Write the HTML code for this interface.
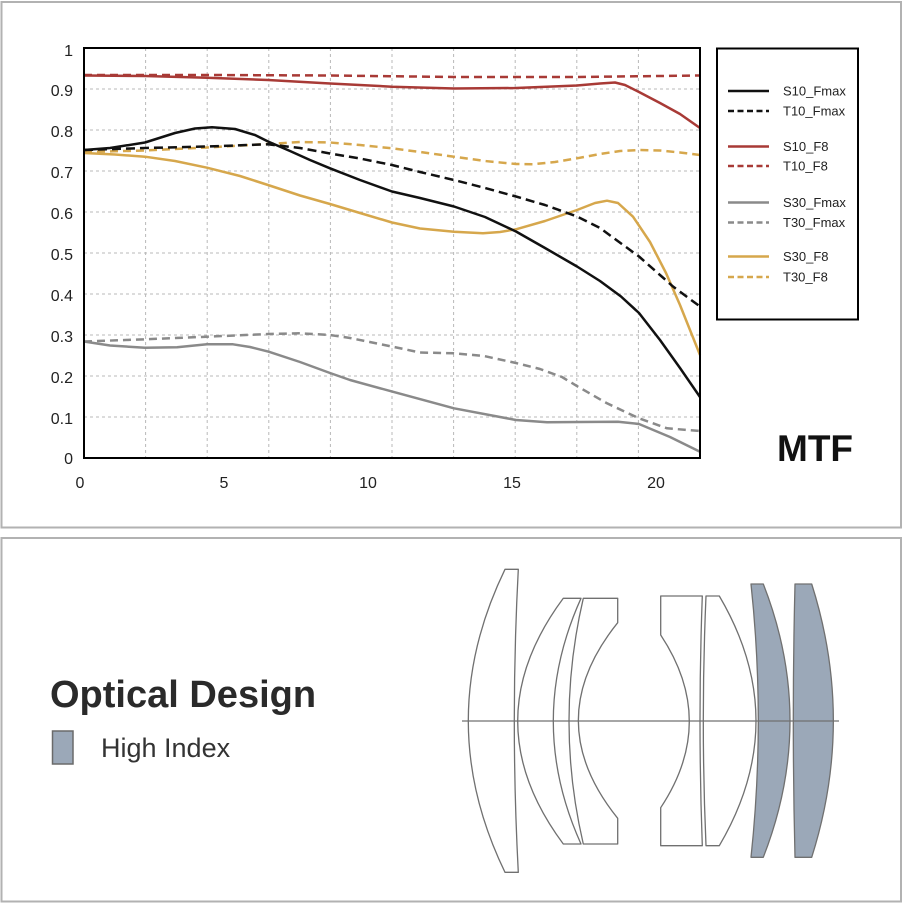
<!DOCTYPE html>
<html>
<head>
<meta charset="utf-8">
<style>
  html,body{margin:0;padding:0;background:#fff;}
  svg{display:block;}
  text{font-family:"Liberation Sans",sans-serif;}
</style>
</head>
<body>
<svg width="903" height="903" viewBox="0 0 903 903" xmlns="http://www.w3.org/2000/svg">
  <rect x="0" y="0" width="903" height="903" fill="#fff"/>
  <!-- panel borders -->
  <rect x="1.5" y="2" width="899.5" height="525.5" fill="none" stroke="#b2b2b2" stroke-width="2"/>
  <rect x="1.5" y="538" width="899.5" height="363.5" fill="none" stroke="#b2b2b2" stroke-width="2"/>

  <!-- grid -->
  <g stroke="#b8b8b8" stroke-width="1" stroke-dasharray="3 3" fill="none">
    <line x1="84" y1="417" x2="700" y2="417"/>
    <line x1="84" y1="376" x2="700" y2="376"/>
    <line x1="84" y1="335" x2="700" y2="335"/>
    <line x1="84" y1="294" x2="700" y2="294"/>
    <line x1="84" y1="253" x2="700" y2="253"/>
    <line x1="84" y1="212" x2="700" y2="212"/>
    <line x1="84" y1="171" x2="700" y2="171"/>
    <line x1="84" y1="130" x2="700" y2="130"/>
    <line x1="84" y1="89" x2="700" y2="89"/>
    <line x1="145.6" y1="48" x2="145.6" y2="458"/>
    <line x1="207.2" y1="48" x2="207.2" y2="458"/>
    <line x1="268.8" y1="48" x2="268.8" y2="458"/>
    <line x1="330.4" y1="48" x2="330.4" y2="458"/>
    <line x1="392" y1="48" x2="392" y2="458"/>
    <line x1="453.6" y1="48" x2="453.6" y2="458"/>
    <line x1="515.2" y1="48" x2="515.2" y2="458"/>
    <line x1="576.8" y1="48" x2="576.8" y2="458"/>
    <line x1="638.4" y1="48" x2="638.4" y2="458"/>
  </g>

  <!-- curves -->
  <g fill="none" stroke-width="2.5" stroke-linejoin="round" stroke-linecap="butt">
    <!-- T30_Fmax -->
    <polyline stroke="#8a8a8a" stroke-dasharray="8 5" points="84,341.5 145,339.3 207,336.7 268.7,334 300,333.3 330,335 350,338 392.7,346.7 420,352.5 454,353.3 484,356 516,363 540,369 562,377 578,386.7 607,403.3 639,418.3 667,428.3 700,431"/>
    <!-- S30_Fmax -->
    <polyline stroke="#8a8a8a" points="84,341.5 110,345.5 145,347.7 177,347.3 207,344.3 233,344.3 250,347 268.7,351.7 300,362 330,373 350,380 392.7,391.7 454,408.3 516,420 547,422.3 580,422 618,421.7 639,424 670,437 700,451.7"/>
    <!-- T30_F8 -->
    <polyline stroke="#d6a74c" stroke-dasharray="8 5" points="84,152 145,150.5 207,147.5 268,144 300,142 330,142.5 360,145 392,148.3 420,152 454,156.7 485,161 516,164 533,164.2 555,162 577,158.3 600,154 620,151 639,150 660,150.5 680,152.5 700,155"/>
    <!-- S30_F8 -->
    <polyline stroke="#d6a74c" points="84,153 115,154.5 145,156.7 175,161 207,167.7 240,176 268,185 300,195.5 330,204 360,213 392,222.5 420,228.5 454,231.7 483,233.3 500,232 516,229.3 545,221 577,210 595,203 607,200.7 618,203 633,216.7 650,242 666,273 680,305 690,330 700,355"/>
    <!-- T10_F8 -->
    <polyline stroke="#a83a36" stroke-dasharray="8 5" points="84,75 207,75 330,75.5 454,77 577,77 700,75.5"/>
    <!-- S10_F8 -->
    <polyline stroke="#a83a36" points="84,75.5 145,76 207,77.7 268,80 330,83.5 392,86.7 454,88.5 516,88 577,85.5 600,83.5 615,82.5 625,85 639,92 660,103 680,114 700,128"/>
    <!-- T10_Fmax -->
    <polyline stroke="#111" stroke-dasharray="9 5" points="84,150 145,148 207,146.5 268,144.3 300,148 330,153.5 360,158.5 392,165 420,172 454,180 485,188 516,196.5 545,205 577,216.5 600,228 615,239 639,256.5 660,275 673,286.5 700,306.5"/>
    <!-- S10_Fmax -->
    <polyline stroke="#111" points="84,150 110,148 145,142.5 175,133 195,128.5 212,127.3 235,129 255,135 268,141.5 290,151 310,160 330,168.3 360,180 392,191.5 420,198 454,206.5 485,217 516,231.5 545,248 577,266.5 600,281 621,296.5 639,313 660,340 680,368 700,397"/>
  </g>

  <!-- frame -->
  <rect x="84" y="48" width="616" height="410" fill="none" stroke="#000" stroke-width="2"/>

  <!-- y tick labels -->
  <g font-size="16" fill="#222" text-anchor="end">
    <text x="73" y="56">1</text>
    <text x="73" y="96">0.9</text>
    <text x="73" y="137">0.8</text>
    <text x="73" y="178">0.7</text>
    <text x="73" y="219">0.6</text>
    <text x="73" y="260">0.5</text>
    <text x="73" y="301">0.4</text>
    <text x="73" y="342">0.3</text>
    <text x="73" y="383">0.2</text>
    <text x="73" y="424">0.1</text>
    <text x="73" y="464">0</text>
  </g>
  <!-- x tick labels -->
  <g font-size="16" fill="#222" text-anchor="middle">
    <text x="80" y="488">0</text>
    <text x="224" y="488">5</text>
    <text x="368" y="488">10</text>
    <text x="512" y="488">15</text>
    <text x="656" y="488">20</text>
  </g>

  <!-- MTF -->
  <text x="777" y="461" font-size="37" font-weight="bold" fill="#111">MTF</text>

  <!-- legend -->
  <rect x="717" y="48.5" width="141" height="271" fill="#fff" stroke="#000" stroke-width="2"/>
  <g stroke-width="2.5" fill="none">
    <line x1="728" y1="91" x2="769" y2="91" stroke="#111"/>
    <line x1="728" y1="111" x2="769" y2="111" stroke="#111" stroke-dasharray="6 3.5"/>
    <line x1="728" y1="146.5" x2="769" y2="146.5" stroke="#a83a36"/>
    <line x1="728" y1="166" x2="769" y2="166" stroke="#a83a36" stroke-dasharray="6 3.5"/>
    <line x1="728" y1="202.5" x2="769" y2="202.5" stroke="#8a8a8a"/>
    <line x1="728" y1="222.5" x2="769" y2="222.5" stroke="#8a8a8a" stroke-dasharray="6 3.5"/>
    <line x1="728" y1="256.5" x2="769" y2="256.5" stroke="#d6a74c"/>
    <line x1="728" y1="277" x2="769" y2="277" stroke="#d6a74c" stroke-dasharray="6 3.5"/>
  </g>
  <g font-size="13" fill="#222">
    <text x="783" y="95.5">S10_Fmax</text>
    <text x="783" y="115.5">T10_Fmax</text>
    <text x="783" y="151">S10_F8</text>
    <text x="783" y="170.5">T10_F8</text>
    <text x="783" y="207">S30_Fmax</text>
    <text x="783" y="227">T30_Fmax</text>
    <text x="783" y="261">S30_F8</text>
    <text x="783" y="281.5">T30_F8</text>
  </g>

  <!-- Optical design text -->
  <text x="50" y="707" font-size="38" font-weight="bold" fill="#2a2a2a">Optical Design</text>
  <rect x="52.5" y="731" width="20.5" height="33" fill="#9ba8b8" stroke="#6a6a6a" stroke-width="1.5"/>
  <text x="101" y="757" font-size="27" fill="#333">High Index</text>

  <!-- lens diagram -->
  <g stroke="#707070" stroke-width="1.3" fill="none" stroke-linejoin="round">
    <!-- lens 1 -->
    <path d="M505,569.3 L518.3,569.3 Q510.3,720.8 518.3,872.3 L505,872.3 Q431.6,720.8 505,569.3 Z" fill="#fff"/>
    <!-- lens 2 -->
    <path d="M563.3,598.3 L581,598.3 Q525.6,721.2 581,844 L563.3,844 Q472.1,721.2 563.3,598.3 Z" fill="#fff"/>
    <!-- lens 3 -->
    <path d="M583.3,598.3 L617.7,598.3 L617.7,622.7 Q539,720.5 617.7,818.3 L617.7,844 L583.3,844 Q554.7,721.2 583.3,598.3 Z" fill="#fff"/>
    <!-- lens 4 -->
    <path d="M660.7,596 L702.3,596 Q697.7,720.8 702.3,845.7 L660.7,845.7 L660.7,807.7 Q717.9,721.3 660.7,635 Z" fill="#fff"/>
    <!-- lens 5 -->
    <path d="M706,596 L719.3,596 Q792.7,720.8 719.3,845.7 L706,845.7 Q700.6,720.8 706,596 Z" fill="#fff"/>
    <!-- lens 6 (high index) -->
    <path d="M751,584 L763.3,584 Q816.7,720.6 763.3,857.3 L751,857.3 Q765.6,720.6 751,584 Z" fill="#9ba8b8"/>
    <!-- lens 7 (high index) -->
    <path d="M795,584 L811.7,584 Q855,720.6 811.7,857.3 L795,857.3 Q791.6,720.6 795,584 Z" fill="#9ba8b8"/>
  </g>
  <!-- optical axis -->
  <line x1="462" y1="721" x2="839" y2="721" stroke="#707070" stroke-width="1.3"/>
</svg>
</body>
</html>
